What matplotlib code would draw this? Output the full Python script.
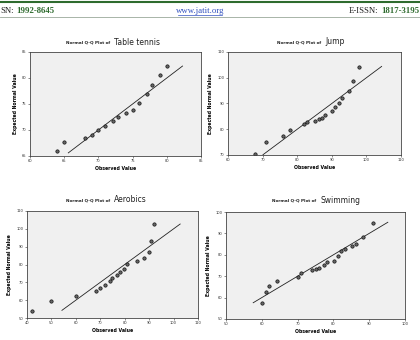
import numpy as np
import matplotlib
matplotlib.use("Agg")
import matplotlib.pyplot as plt

# observed / expected values
tt_obs = [64.0, 64.9, 68.1, 69.0, 70.0, 71.0, 72.1, 72.9, 74.0, 75.0, 76.0, 77.1, 77.9, 79.0, 80.0]
tt_exp = [66.0, 67.7, 68.5, 69.0, 70.0, 70.8, 71.7, 72.5, 73.3, 73.9, 75.2, 76.9, 78.7, 80.6, 82.3]
tt_line = [65.6, 82.3]

jump_obs = [67.9, 71.0, 75.9, 78.0, 82.0, 82.9, 85.1, 86.3, 87.1, 88.1, 90.0, 91.0, 92.0, 93.0, 95.0, 96.1, 98.0]
jump_exp = [70.4, 75.0, 77.4, 79.8, 81.9, 82.7, 83.3, 84.1, 84.4, 85.5, 87.2, 88.6, 90.1, 92.3, 94.7, 98.7, 104.2]
jump_line = [70.1, 104.4]

aer_obs = [42.0, 49.8, 60.1, 68.3, 69.9, 72.0, 74.0, 74.8, 76.9, 78.1, 79.8, 81.0, 85.1, 88.0, 90.0, 90.8, 92.0]
aer_exp = [53.9, 59.5, 62.3, 65.1, 66.8, 68.5, 70.8, 72.4, 74.1, 75.8, 77.5, 80.3, 82.0, 83.7, 87.0, 93.2, 102.7]
aer_line = [54.3, 102.7]

swim_obs = [60.0, 61.1, 62.0, 64.2, 70.0, 71.0, 74.1, 75.1, 76.0, 77.3, 78.1, 80.2, 81.2, 82.2, 83.2, 85.2, 86.2, 88.2, 91.2]
swim_exp = [57.7, 62.7, 65.5, 67.8, 69.8, 71.4, 72.7, 73.4, 73.9, 75.3, 76.6, 77.3, 79.5, 81.7, 82.8, 84.1, 85.2, 88.3, 95.0]
swim_line = [57.6, 95.2]

tt_xticks = [60, 65, 70, 75, 80, 85]
tt_yticks = [65, 70, 75, 80, 85]
jump_xticks = [60, 70, 80, 90, 100, 110]
jump_yticks = [70, 80, 90, 100, 110]
aer_xticks = [40, 50, 60, 70, 80, 90, 100, 110]
aer_yticks = [50, 60, 70, 80, 90, 100, 110]
swim_xticks = [50, 60, 70, 80, 90, 100]
swim_yticks = [50, 60, 70, 80, 90, 100]

W, H = 420, 340
fig = plt.figure(figsize=(4.2, 3.4), dpi=100)
fig.patch.set_facecolor("white")


def box(l, t, r, b):
    # pixel box -> figure fraction rect
    return [l / W, 1 - b / H, (r - l) / W, (b - t) / H]


def qq_panel(rect, obs, exp, line, xt, yt, name, title_xy):
    ax = fig.add_axes(rect)
    ax.set_facecolor("#f0f0f0")
    ax.plot(line, line, color="#222222", lw=0.6)
    ax.plot(obs, exp, "o", ms=2.4, mfc="#666666", mec="#111111", mew=0.5)
    ax.set_xlim(xt[0], xt[-1])
    ax.set_ylim(yt[0], yt[-1])
    ax.set_xticks(xt)
    ax.set_yticks(yt)
    ax.tick_params(labelsize=2.6, length=1.5, width=0.4, pad=1, colors="#333333")
    for s in ax.spines.values():
        s.set_linewidth(0.6)
        s.set_color("#444444")
    ax.set_xlabel("Observed Value", fontsize=3.3, fontweight="bold", labelpad=2)
    ax.set_ylabel("Expected Normal Value", fontsize=3.3, fontweight="bold", labelpad=3)
    tx, ty = title_xy
    t1 = fig.text(tx / W, 1 - ty / H, "Normal Q-Q Plot of", fontsize=3.0, fontweight="bold",
                  ha="left", va="center", color="#222222")
    ax.annotate(name, xy=(1, 0.5), xycoords=t1, xytext=(3, 0.5), textcoords="offset points",
                fontsize=5.5, ha="left", va="center", color="#222222",
                annotation_clip=False)
    return ax


qq_panel(box(30, 52, 201, 156), tt_obs, tt_exp, tt_line, tt_xticks, tt_yticks, "Table tennis", (66, 43))
qq_panel(box(228, 52, 401, 155), jump_obs, jump_exp, jump_line, jump_xticks, jump_yticks, "Jump", (277, 42))
qq_panel(box(27, 211, 198, 318), aer_obs, aer_exp, aer_line, aer_xticks, aer_yticks, "Aerobics", (66, 200))
qq_panel(box(226, 212, 405, 319), swim_obs, swim_exp, swim_line, swim_xticks, swim_yticks, "Swimming", (272, 201))

# journal header
serif = "Liberation Serif"
fig.add_artist(plt.Line2D([0, 1], [1 - 1.5 / H] * 2, color="#2e6b2e", lw=1.5))
fig.add_artist(plt.Line2D([0, 1], [1 - 17 / H] * 2, color="#9aa89a", lw=0.6))
h1 = fig.text(0, 1 - 11 / H, "SN:", fontsize=6.3, family=serif, va="center", ha="left",
              color="#222222")
plt.annotate("1992-8645", xy=(1, 0.5), xycoords=h1, xytext=(2, 0), textcoords="offset points",
             fontsize=6.3, family=serif, fontweight="bold", va="center", ha="left",
             color="#2e6b2e", annotation_clip=False)
fig.text(200 / W, 1 - 11 / H, "www.jatit.org", fontsize=6.3, family=serif, va="center",
         ha="center", color="#2f4fbf")
fig.add_artist(plt.Line2D([178 / W, 222 / W], [1 - 15 / H] * 2, color="#2f4fbf", lw=0.5))
h2 = fig.text(0.998, 1 - 11 / H, "1817-3195", fontsize=6.3, family=serif, fontweight="bold",
              va="center", ha="right", color="#2e6b2e")
plt.annotate("E-ISSN:", xy=(0, 0.5), xycoords=h2, xytext=(-2, 0), textcoords="offset points",
             fontsize=6.3, family=serif, va="center", ha="right", color="#222222",
             annotation_clip=False)

fig.savefig("out.png", dpi=100)
